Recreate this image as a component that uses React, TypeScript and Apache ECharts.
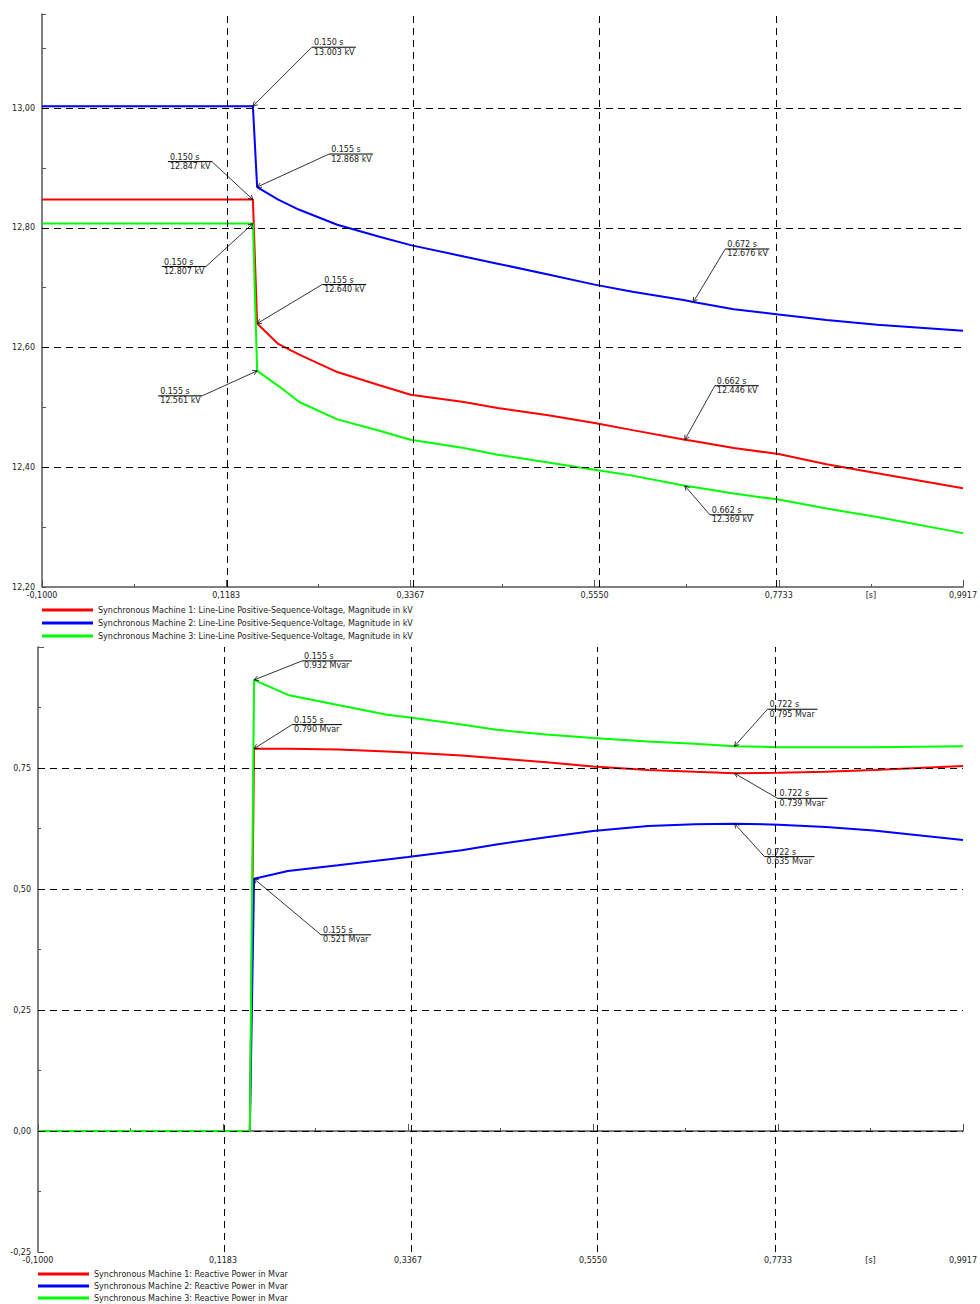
import React, { useEffect, useRef } from "react";
import * as echarts from "echarts";

const FONT = "'DejaVu Sans', Verdana, sans-serif";

// x axis (seconds)
const X_MIN = -0.1;
const X_MAX = 0.991667;
const X_STEP = (X_MAX - X_MIN) / 5;
const X_UNIT_AT = 0.8825;

// ---------- Voltage chart ----------
const V_NAMES = [
  "Synchronous Machine 1: Line-Line Positive-Sequence-Voltage, Magnitude in kV",
  "Synchronous Machine 2: Line-Line Positive-Sequence-Voltage, Magnitude in kV",
  "Synchronous Machine 3: Line-Line Positive-Sequence-Voltage, Magnitude in kV",
];
const V_TIMES = [-0.1, 0.15, 0.155, 0.18, 0.205, 0.25, 0.3, 0.337, 0.4, 0.44, 0.5, 0.555, 0.6, 0.662, 0.672, 0.72, 0.773, 0.83, 0.89, 0.9917];
const V_SM1 = [12.847, 12.847, 12.64, 12.606, 12.588, 12.559, 12.537, 12.521, 12.509, 12.499, 12.487, 12.474, 12.462, 12.446, 12.444, 12.432, 12.422, 12.405, 12.39, 12.365];
const V_SM2 = [13.003, 13.003, 12.868, 12.847, 12.83, 12.805, 12.785, 12.771, 12.752, 12.74, 12.722, 12.705, 12.693, 12.679, 12.676, 12.664, 12.655, 12.646, 12.638, 12.628];
const V_SM3 = [12.807, 12.807, 12.561, 12.536, 12.509, 12.48, 12.461, 12.446, 12.432, 12.421, 12.408, 12.396, 12.386, 12.369, 12.367, 12.356, 12.346, 12.331, 12.317, 12.29];
const V_Y_MIN = 12.2;
const V_Y_MAX = 13.157;
const V_GRID_Y = [12.4, 12.6, 12.8, 13.0];
const V_MARK_T = [0.15, 0.155, 0.15, 0.15, 0.155, 0.155, 0.672, 0.662, 0.662];
const V_MARK_V = [13.003, 12.868, 12.847, 12.807, 12.64, 12.561, 12.676, 12.446, 12.369];
const V_UNIT = "kV";

// ---------- Reactive power chart ----------
const Q_NAMES = [
  "Synchronous Machine 1: Reactive Power in Mvar",
  "Synchronous Machine 2: Reactive Power in Mvar",
  "Synchronous Machine 3: Reactive Power in Mvar",
];
const Q_TIMES = [-0.1, 0.15, 0.155, 0.195, 0.254, 0.312, 0.3367, 0.4, 0.441, 0.5, 0.555, 0.62, 0.675, 0.722, 0.774, 0.83, 0.886, 0.9917];
const Q_SM1 = [0, 0, 0.79, 0.79, 0.788, 0.784, 0.782, 0.776, 0.77, 0.762, 0.753, 0.746, 0.742, 0.739, 0.74, 0.742, 0.746, 0.754];
const Q_SM2 = [0, 0, 0.521, 0.537, 0.549, 0.561, 0.566, 0.58, 0.592, 0.607, 0.62, 0.63, 0.634, 0.635, 0.633, 0.628, 0.621, 0.601];
const Q_SM3 = [0, 0, 0.932, 0.901, 0.88, 0.86, 0.855, 0.84, 0.829, 0.819, 0.812, 0.805, 0.8, 0.795, 0.793, 0.793, 0.793, 0.795];
const Q_Y_MIN = -0.25;
const Q_Y_MAX = 1.0;
const Q_GRID_Y = [0, 0.25, 0.5, 0.75];
const Q_MARK_T = [0.155, 0.155, 0.155, 0.722, 0.722, 0.722];
const Q_MARK_V = [0.932, 0.79, 0.521, 0.795, 0.739, 0.635];
const Q_UNIT = "Mvar";

const COLORS = ["#ff0000", "#0000ff", "#00ff00"];

// annotation layout (pixel offsets of the label anchor from the marked point)
const V_MARK_LAYOUT = [
  [59, -59, 1], [72, -33, 1], [-41, -38, -1], [-47, 43, -1], [65, -39, 1],
  [-55, 25, -1], [32, -53, 1], [30, -54, 1], [25, 29, 1],
];
const Q_MARK_LAYOUT = [
  [48, -19, 1], [38, -24, 1], [67, 56, 1], [33, -37, 1], [43, 25, 1], [30, 33, 1],
];

const comma = (s: string) => s.replace(".", ",");

function App() {
  const ref = useRef<HTMLDivElement>(null);

  useEffect(() => {
    document.body.style.margin = "0";
    const chart = echarts.init(ref.current!, null, { renderer: "svg" });

    const xAxis = (gridIndex: number) => ({
      type: "value",
      gridIndex,
      min: 0,
      max: X_MAX - X_MIN,
      interval: X_STEP,
      axisLine: { show: true, lineStyle: { color: "#555", width: 1.5 } },
      axisTick: { show: true, inside: true, length: 7, lineStyle: { color: "#555" } },
      minorTick: { show: true, splitNumber: 2, length: 3, lineStyle: { color: "#555" } },
      splitLine: { show: false },
      minorSplitLine: { show: false },
      axisLabel: {
        fontSize: 8,
        fontFamily: FONT,
        color: "#222",
        margin: 4,
        formatter: (v: number) => comma((v + X_MIN).toFixed(4)),
      },
    });

    const gridSeries = (idx: number, ys: number[]) => ({
      type: "line",
      name: "__grid" + idx,
      xAxisIndex: idx,
      yAxisIndex: idx,
      data: [],
      z: 1,
      silent: true,
      markLine: {
        silent: true,
        symbol: ["none", "none"],
        animation: false,
        label: { show: false },
        lineStyle: { color: "#000", type: [7, 5], width: 1 },
        data: [
          ...[1, 2, 3, 4].map((i) => ({ xAxis: i * X_STEP })),
          ...ys.map((y) => ({ yAxis: y })),
        ],
      },
    });

    const dataSeries = (idx: number, names: string[], times: number[], vals: number[][]) =>
      names.map((name, i) => ({
        type: "line",
        name,
        xAxisIndex: idx,
        yAxisIndex: idx,
        showSymbol: false,
        symbol: "none",
        z: 2,
        color: COLORS[i],
        lineStyle: { color: COLORS[i], width: 2 },
        data: times.map((t, k) => [t - X_MIN, vals[i][k]]),
      }));

    const legend = (names: string[], left: number, top: number, gap: number) => ({
      data: names,
      left,
      top,
      orient: "vertical",
      icon: "rect",
      itemWidth: 51,
      itemHeight: 3,
      itemGap: gap,
      padding: 0,
      selectedMode: false,
      textStyle: { fontSize: 8, lineHeight: 10, color: "#222", fontFamily: FONT },
    });

    chart.setOption({
      animation: false,
      backgroundColor: "#fff",
      grid: [
        { left: 42, top: 14, width: 924, height: 573 },
        { left: 38, top: 647, width: 932, height: 605 },
      ],
      xAxis: [xAxis(0), xAxis(1)],
      yAxis: [
        {
          type: "value",
          gridIndex: 0,
          min: V_Y_MIN,
          max: V_Y_MAX,
          interval: 0.1,
          axisLine: { show: true, lineStyle: { color: "#555", width: 1.5 } },
          axisTick: { show: true, inside: true, length: 4, lineStyle: { color: "#555" } },
          splitLine: { show: false },
          axisLabel: {
            fontSize: 8,
            fontFamily: FONT,
            color: "#222",
            margin: 7,
            formatter: (v: number) => {
              const k = Math.round(v * 10);
              if (Math.abs(v * 10 - k) > 1e-6 || k % 2 !== 0) return "";
              return comma(v.toFixed(2));
            },
          },
        },
        {
          type: "value",
          gridIndex: 1,
          min: Q_Y_MIN,
          max: Q_Y_MAX,
          interval: 0.25,
          axisLine: { show: true, lineStyle: { color: "#555", width: 1.5 } },
          axisTick: { show: true, inside: true, length: 6, lineStyle: { color: "#555" } },
          minorTick: { show: true, splitNumber: 2, length: 3, lineStyle: { color: "#555" } },
          splitLine: { show: false },
          axisLabel: {
            fontSize: 8,
            fontFamily: FONT,
            color: "#222",
            margin: 7,
            showMaxLabel: false,
            formatter: (v: number) => comma(v.toFixed(2)),
          },
        },
      ],
      legend: [legend(V_NAMES, 42, 605, 3), legend(Q_NAMES, 38, 1269, 2)],
      series: [
        gridSeries(0, V_GRID_Y),
        gridSeries(1, Q_GRID_Y),
        ...dataSeries(0, V_NAMES, V_TIMES, [V_SM1, V_SM2, V_SM3]),
        ...dataSeries(1, Q_NAMES, Q_TIMES, [Q_SM1, Q_SM2, Q_SM3]),
      ],
    });

    const graphics: any[] = [];
    const txt = (text: string, x: number, y: number, align: string, vAlign: string) => ({
      type: "text",
      silent: true,
      z: 10,
      style: {
        text,
        x,
        y,
        fill: "#222",
        fontSize: 8,
        fontFamily: FONT,
        align,
        textAlign: align,
        verticalAlign: vAlign,
        textVerticalAlign: vAlign,
      },
    });
    const ln = (x1: number, y1: number, x2: number, y2: number, w = 0.8) => ({
      type: "line",
      silent: true,
      z: 10,
      shape: { x1, y1, x2, y2 },
      style: { stroke: "#000", lineWidth: w },
    });

    const addMarks = (grid: number, ts: number[], vs: number[], layout: number[][], unit: string, ulw: number) => {
      ts.forEach((t, i) => {
        const [px, py] = chart.convertToPixel({ gridIndex: grid }, [t - X_MIN, vs[i]]) as number[];
        const [dx, dy, side] = layout[i];
        const ax = px + dx;
        const ay = py + dy;
        graphics.push(ln(px, py, ax, ay));
        const ang = Math.atan2(ay - py, ax - px);
        const a1 = ang + 0.5;
        const a2 = ang - 0.5;
        graphics.push({
          type: "polyline",
          silent: true,
          z: 10,
          shape: {
            points: [
              [px + 5 * Math.cos(a1), py + 5 * Math.sin(a1)],
              [px, py],
              [px + 5 * Math.cos(a2), py + 5 * Math.sin(a2)],
            ],
          },
          style: { stroke: "#000", lineWidth: 0.8, fill: "none" },
        });
        const x0 = side > 0 ? ax : ax - ulw;
        graphics.push(ln(x0, ay, x0 + ulw, ay, 1));
        graphics.push(txt(t.toFixed(3) + " s", x0 + 2, ay - 0.5, "left", "bottom"));
        graphics.push(txt(vs[i].toFixed(3) + " " + unit, x0 + 2, ay + 1, "left", "top"));
      });
    };

    addMarks(0, V_MARK_T, V_MARK_V, V_MARK_LAYOUT, V_UNIT, 44);
    addMarks(1, Q_MARK_T, Q_MARK_V, Q_MARK_LAYOUT, Q_UNIT, 50);

    [[0, V_Y_MIN], [1, Q_Y_MIN]].forEach(([g, y]) => {
      const [sx, sy] = chart.convertToPixel({ gridIndex: g }, [X_UNIT_AT - X_MIN, y]) as number[];
      graphics.push(txt("[s]", sx, sy + 4, "center", "top"));
    });

    chart.setOption({ graphic: graphics });

    return () => chart.dispose();
  }, []);

  return (
    <div style={{ width: 980, height: 1304, overflow: "hidden", position: "relative" }}>
      <div ref={ref} style={{ width: 980, height: 1330 }} />
    </div>
  );
}

export default App;
